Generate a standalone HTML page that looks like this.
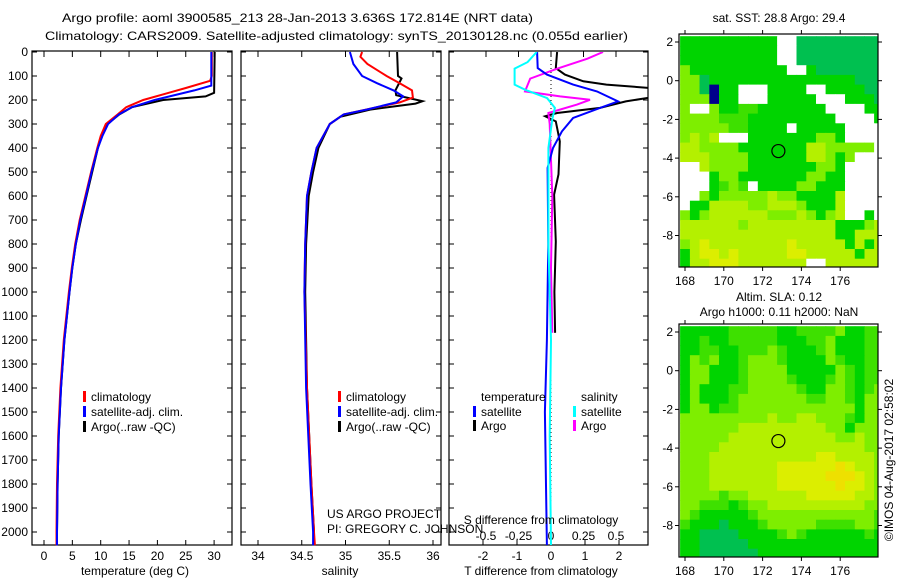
<!DOCTYPE html>
<html><head><meta charset="utf-8">
<style>
html,body{margin:0;padding:0;background:#fff;}
svg{display:block;font-family:"Liberation Sans",sans-serif;}
text{font-size:12px;fill:#000;}
</style></head>
<body>
<svg id="chart" width="900" height="580" viewBox="0 0 900 580" xmlns="http://www.w3.org/2000/svg">
<text x="62" y="22" textLength="471" lengthAdjust="spacingAndGlyphs">Argo profile: aoml 3900585_213 28-Jan-2013 3.636S 172.814E (NRT data)</text>
<text x="45" y="40" textLength="583" lengthAdjust="spacingAndGlyphs">Climatology: CARS2009. Satellite-adjusted climatology: synTS_20130128.nc (0.055d earlier)</text>
<g id="plots"></g>
<text x="135" y="575" text-anchor="middle">temperature (deg C)</text>
<text x="340" y="575" text-anchor="middle">salinity</text>
<text x="541" y="575" text-anchor="middle">T difference from climatology</text>
<text x="541" y="524" text-anchor="middle">S difference from climatology</text>
<text x="327" y="518">US ARGO PROJECT</text>
<text x="327" y="533">PI: GREGORY C. JOHNSON</text>
<text x="779" y="22" text-anchor="middle">sat. SST: 28.8 Argo: 29.4</text>
<text x="779" y="301" text-anchor="middle">Altim. SLA: 0.12</text>
<text x="779" y="316" text-anchor="middle">Argo h1000: 0.11 h2000: NaN</text>
<text transform="translate(893,460) rotate(-90)" text-anchor="middle">©IMOS 04-Aug-2017 02:58:02</text>
</svg>
<script>
// ---- profile data ----
const depthTicks = [0,100,200,300,400,500,600,700,800,900,1000,1100,1200,1300,1400,1500,1600,1700,1800,1900,2000];
const tempTicks = [0,5,10,15,20,25,30];
const salTicks = [34,34.5,35,35.5,36];
const salTickLabels = ["34","34.5","35","35.5","36"];
const tdiffTicks = [-2,-1,0,1,2];
const sdiffTicks = [-0.5,-0.25,0,0.25,0.5];
const sdiffTickLabels = ["-0.5","-0.25","0","0.25","0.5"];

const tClimDepth = [0,100,120,150,170,200,230,260,300,350,400,500,600,700,800,900,1000,1200,1400,1600,1800,2000,2055];
const tClimVal   = [29.6,29.6,29.3,25,22,17.5,14.5,13,10.9,10,9.4,8.3,7.3,6.3,5.5,4.9,4.4,3.5,2.9,2.5,2.3,2.2,2.2];
const tSatDepth  = [0,140,160,200,230,260,300,350,400,500,600,700,800,900,1000,1200,1400,1600,1800,2000,2055];
const tSatVal    = [29.5,29.5,26.5,19.5,15.5,13.2,11.3,10.3,9.5,8.4,7.4,6.4,5.6,5.0,4.5,3.6,3.0,2.6,2.4,2.3,2.3];
const tArgoDepth = [0,170,185,200,230,260,300,350,400,500,600,700,800,900,1000,1200,1400,1600,1800,2000];
const tArgoVal   = [30.1,30.0,28.5,21,15.5,13.3,11.2,10.2,9.5,8.5,7.5,6.5,5.6,5.0,4.5,3.6,3.0,2.6,2.4,2.3];

const sClimDepth = [0,20,50,100,130,160,190,210,230,260,300,400,500,600,800,1000,1400,1800,2000,2055];
const sClimVal   = [35.19,35.17,35.25,35.47,35.62,35.76,35.77,35.62,35.36,34.98,34.82,34.67,34.61,34.56,34.54,34.53,34.56,34.61,34.64,34.65];
const sSatDepth  = [0,50,100,130,160,185,210,240,260,300,400,500,600,800,1000,1400,1800,2000,2055];
const sSatVal    = [35.05,35.09,35.19,35.36,35.55,35.66,35.58,35.24,34.98,34.82,34.67,34.61,34.56,34.54,34.53,34.55,34.6,34.63,34.63];
const sArgoDepth = [0,100,110,160,180,190,205,215,240,270,300,400,500,600,800,1000,1400,1800,2000];
const sArgoVal   = [35.59,35.6,35.64,35.57,35.58,35.7,35.88,35.8,35.28,34.94,34.82,34.69,34.63,34.58,34.55,34.54,34.56,34.61,34.64];

const dTSatDepth = [0,67,94,136,164,206,233,275,331,400,483,800,1200,1500,2055];
const dTSatVal   = [-0.41,-0.39,-0.12,0.65,1.35,1.97,1.44,0.65,0.32,0.06,-0.1,-0.08,-0.12,-0.18,-0.12];
const dTArgoDepth= [0,67,94,122,136,150,190,206,233,254,268,289,372,510,594,790,1000,1170];
const dTArgoVal  = [0.18,0.14,0.41,0.95,1.63,2.9,2.9,2.2,1.44,0.18,-0.17,0.14,0.26,0.22,0.09,0.14,0.1,0.12];
const dSSatDepth = [0,42,69,136,157,192,233,280,400,800,1200,1600,2055];
const dSSatVal   = [-0.11,-0.18,-0.28,-0.28,-0.2,-0.03,0.03,0.01,-0.02,-0.02,0.0,-0.01,0.0];
const dSArgoDepth= [0,28,69,111,164,185,199,219,254,300,600,900,1170];
const dSArgoVal  = [0.4,0.28,0.05,-0.16,-0.2,0.07,0.3,0.2,-0.02,-0.01,0.01,0.0,0.01];

// ---- map data (0.5 deg cells from lon 167.75, lat 2.3 downward) ----
const sstRows = [
"GGGGGGGGGGWWttttttttt","GGGGGGGGGGWWttttttttt","GGGGGGGGGGWWttttttttt","lGGGGGGGGGGWWGttttttt",
"lltGGGGGGGGGGGGGGGttt","lltBGGWWWGGGGWWGGGGtt","lllBGGWWWGGGGGWWWGGGt","lWWlGGggGGGGGGGWWWWGG",
"llllgggGGGGGGGGGWWWWG","lllllggGGGGWGGGGGWWWW","lylyWWWGGGGGGGllGWWWW","yyllllGGGGGGGyylllllW",
"yyyllllGGGGGGyylGlWWW","WWyllllGGGGGGGllGWWWW","WWWGllGGGGGGGllGGWWWW","WWWGglgWGGGGllGGGWWWW",
"WWlGlllllyllGGGGyWWWW","WGGyyyyllyyylGGGyWWWW","lGlyyyyyylllylGlyWWGW","yyyyyylyyyyyyyyyGGGly",
"yyyyyyyyyyyyyyyyGGyyy","lyYyyyyyyyyYyyyyyGyGy","GyYYyYyyyyyYYyyyyyGyy","GyyYYYyyyyyyyWWyyyyyy"];
const slaRows = [
"GGGGGgggggGGgggglGGgg","GGgGGgggggGGGgglGGGgg","GGggGGggglgGGGglGGGgg","GlglGGglllgGGGGlgGGgg",
"GllGGGgllllGGGGGlgGgg","GllGGGgllllgGGGglgGgg","GlGGGgglllllgGGllgGgl","GlGGGglllllllggllgGll",
"GllGggllllllllllllGll","lllllllllyllyylllgGll","llllllyyyyyyyyyllGlll","lllllyyyyyyyyyyyllyll",
"llllyyyyyyyyyyyyyyyll","lllyyyyyyyyyyyYYyyyyl","lllyyyyyyyYYYYYYOYyyl","lllyyyyyyyYYYYYOOOYyl",
"lllyyyyyyyYYYYYYOYYyl","llllgllyyyyyyYYYYYyyl","llgggGgllyyyyyyyyyyll","lgGGGGGgllllllllllllg",
"gGGGtGGGglllllggggllg","GGttttGGGGglgGGGGGGgG","GGtttttGGGGGGGGGGGGGG","GGttttttGGGGGGGGGGGGG"];
const lonTicks = [168,170,172,174,176];
const latTicks = [2,0,-2,-4,-6,-8];
const argoLon = 172.814, argoLat = -3.636;

const NS="http://www.w3.org/2000/svg";
const root=document.getElementById('plots');
function mk(tag,attrs,parent){const e=document.createElementNS(NS,tag);for(const k in attrs)e.setAttribute(k,attrs[k]);(parent||root).appendChild(e);return e;}

const top0=52, yScale=0.24, bottom=545;
const yD=d=>top0+d*yScale;
const panels=[
 {name:'temperature-panel',x0:32,x1:232,fx:v=>44+v*5.67},
 {name:'salinity-panel',x0:241,x1:441,fx:v=>258+(v-34)*87.5},
 {name:'difference-panel',x0:449,x1:648,fx:v=>551+v*34}];
const fS=v=>551+v*130;

panels.forEach((p,pi)=>{
 const g=mk('g',{});
 
 
 const r=mk('rect',{x:p.x0,y:top0-1,width:p.x1-p.x0,height:bottom-top0+1,fill:'none',stroke:'#000','stroke-width':1.2},g);
 
 
 depthTicks.forEach(d=>{
  const y=yD(d);
  mk('line',{x1:p.x0,x2:p.x0+5,y1:y,y2:y,stroke:'#000'},g);
  mk('line',{x1:p.x1-5,x2:p.x1,y1:y,y2:y,stroke:'#000'},g);
  if(pi===0){const t=mk('text',{x:28,y:y+4,'text-anchor':'end'},g);t.textContent=d;
   
   }
 });
});
function xTicks(vals,labels,f,ybot,topTicks,botTicks,labelY){
 vals.forEach((v,i)=>{
  const x=f(v);
  if(topTicks) mk('line',{x1:x,x2:x,y1:top0-1,y2:top0+5,stroke:'#000'});
  if(botTicks) mk('line',{x1:x,x2:x,y1:bottom-5,y2:bottom,stroke:'#000'});
  const t=mk('text',{x:x,y:labelY,'text-anchor':'middle'});t.textContent=labels[i];
  
  
 });
}
xTicks(tempTicks,tempTicks.map(String),panels[0].fx,bottom,true,true,560);
xTicks(salTicks,salTickLabels,panels[1].fx,bottom,true,true,560);
xTicks(tdiffTicks,tdiffTicks.map(String),panels[2].fx,bottom,false,true,560);
xTicks(sdiffTicks,sdiffTickLabels,fS,bottom,true,false,540);
mk('line',{x1:551,x2:551,y1:top0,y2:bottom,stroke:'#000','stroke-dasharray':'1,3'});

function series(depths,vals,f,color,name,w){
 const pts=depths.map((d,i)=>f(vals[i]).toFixed(1)+','+yD(d).toFixed(1)).join(' ');
 const pl=mk('polyline',{points:pts,fill:'none',stroke:color,'stroke-width':w||2});
 
 
}
const clip=mk('clipPath',{id:'c3'});mk('rect',{x:449,y:top0,width:199,height:bottom-top0},clip);
series(tArgoDepth,tArgoVal,panels[0].fx,'#000','temp-argo-line');
series(tClimDepth,tClimVal,panels[0].fx,'#f00','temp-climatology-line');
series(tSatDepth,tSatVal,panels[0].fx,'#00f','temp-satellite-line');
series(sArgoDepth,sArgoVal,panels[1].fx,'#000','salinity-argo-line');
series(sClimDepth,sClimVal,panels[1].fx,'#f00','salinity-climatology-line');
series(sSatDepth,sSatVal,panels[1].fx,'#00f','salinity-satellite-line');
const g3=mk('g',{'clip-path':'url(#c3)'});
function series3(d,v,f,c,n){const pts=d.map((dd,i)=>f(v[i]).toFixed(1)+','+yD(dd).toFixed(1)).join(' ');
 const pl=mk('polyline',{points:pts,fill:'none',stroke:c,'stroke-width':2},g3);
 
 }
series3(dTArgoDepth,dTArgoVal,panels[2].fx,'#000','t-diff-argo-line');
series3(dSArgoDepth,dSArgoVal,fS,'#f0f','s-diff-argo-line');
series3(dTSatDepth,dTSatVal,panels[2].fx,'#00f','t-diff-satellite-line');
series3(dSSatDepth,dSSatVal,fS,'#0ff','s-diff-satellite-line');

function legend(x,y,color,label,tx){
 const b=mk('rect',{x:x,y:y-6,width:3,height:11,fill:color});
 
 
 const t=mk('text',{x:tx||x+8,y:y+4});t.textContent=label;
 
 
}
legend(83,397,'#f00','climatology');legend(83,412,'#00f','satellite-adj. clim.');legend(83,427,'#000','Argo(..raw -QC)');
legend(338,397,'#f00','climatology',346);legend(338,412,'#00f','satellite-adj. clim.',346);legend(338,427,'#000','Argo(..raw -QC)',346);
let lt=mk('text',{x:481,y:401});lt.textContent='temperature';


lt=mk('text',{x:581,y:401});lt.textContent='salinity';


legend(473,412,'#00f','satellite',481);legend(473,426,'#000','Argo',481);
legend(573,412,'#0ff','satellite',581);legend(573,426,'#f0f','Argo',581);

const colors={G:'#00d400',g:'#3ee000',l:'#7eee00',y:'#b4f000',Y:'#dcee00',O:'#eee000',t:'#00c050',W:'#ffffff',B:'#00008c'};
function drawMap(name,rows,mx0,my0,mx1,my1,lat2y){
 const g=mk('g',{});
 
 
 const lonX=lon=>685+(lon-168)*19.4;
 const latY=lat=>lat2y+(2-lat)*19.35;
 const cp=mk('clipPath',{id:name+'-clip'});mk('rect',{x:mx0,y:my0,width:mx1-mx0,height:my1-my0},cp);
 const cg=mk('g',{'clip-path':'url(#'+name+'-clip)'},g);
 rows.forEach((row,ri)=>{
  for(let ci=0;ci<row.length;ci++){
   const lon=167.75+ci*0.5, lat=2.3-ri*0.5;
   const x=lonX(lon), y=latY(lat);
   const c=mk('rect',{x:x.toFixed(1),y:y.toFixed(1),width:10.2,height:10.2,fill:colors[row[ci]]},cg);
   
   
  }
 });
 const ci=mk('circle',{cx:lonX(argoLon),cy:latY(argoLat),r:6.5,fill:'none',stroke:'#000','stroke-width':1.2},g);
 
 
 mk('rect',{x:mx0,y:my0,width:mx1-mx0,height:my1-my0,fill:'none',stroke:'#000','stroke-width':1.2},g);
 lonTicks.forEach(l=>{const x=lonX(l);
  mk('line',{x1:x,x2:x,y1:my0-4,y2:my0,stroke:'#000'},g);
  mk('line',{x1:x,x2:x,y1:my1,y2:my1+4,stroke:'#000'},g);
  const t=mk('text',{x:x,y:my1+18,'text-anchor':'middle'},g);t.textContent=l;
  
  });
 latTicks.forEach(l=>{const y=latY(l);
  mk('line',{x1:mx0-4,x2:mx0,y1:y,y2:y,stroke:'#000'},g);
  mk('line',{x1:mx1,x2:mx1+4,y1:y,y2:y,stroke:'#000'},g);
  const t=mk('text',{x:mx0-6,y:y+4,'text-anchor':'end'},g);t.textContent=l;
  
  });
}
drawMap('sst-map',sstRows,679,34,878,267,42);
drawMap('sla-map',slaRows,679,324,878,557,332);
</script>
</body></html>
